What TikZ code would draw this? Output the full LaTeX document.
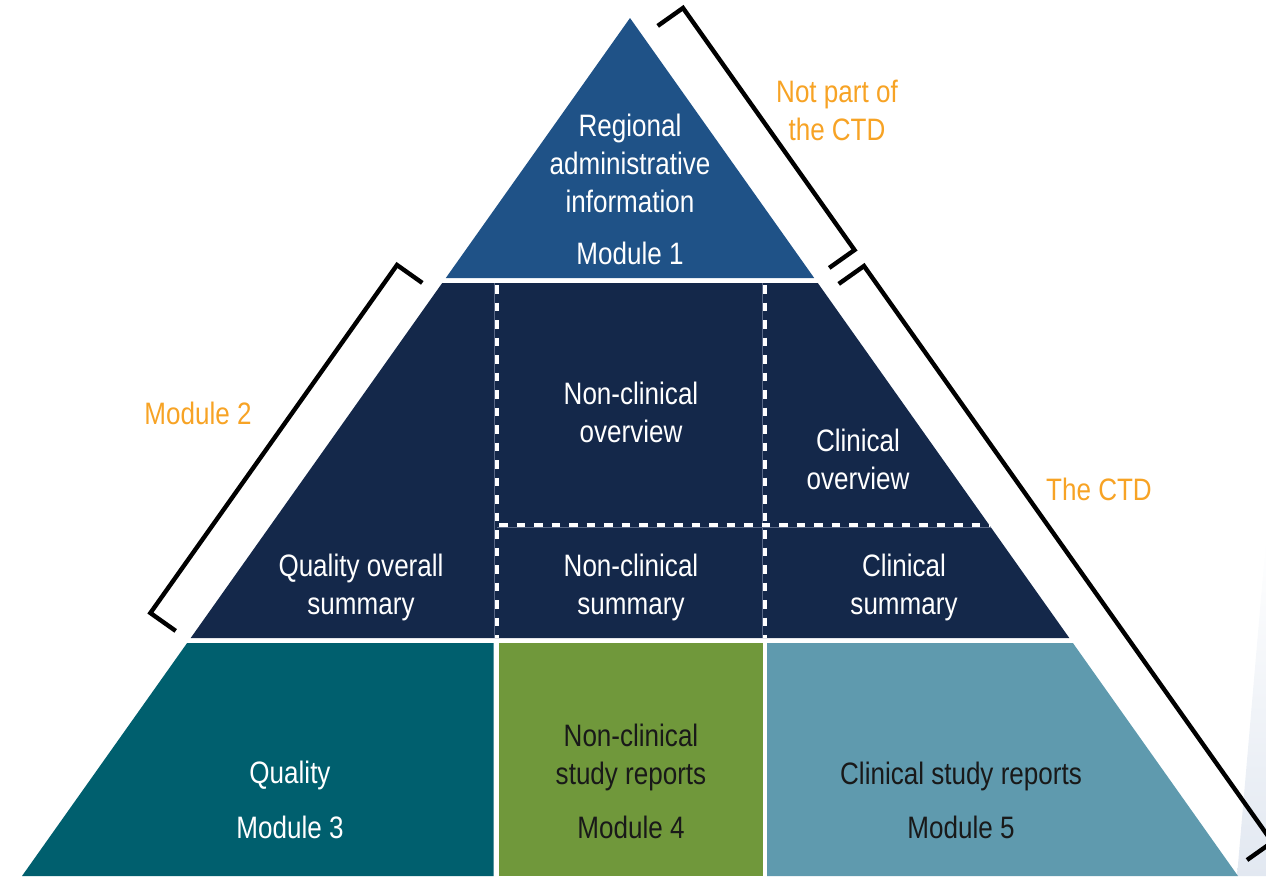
\documentclass[tikz,border=0pt]{standalone}
\usepackage{fontspec}
\setmainfont{Liberation Sans}[FakeStretch=0.84]
\definecolor{modone}{RGB}{31,82,135}
\definecolor{modtwo}{RGB}{20,40,74}
\definecolor{modthree}{RGB}{0,95,110}
\definecolor{modfour}{RGB}{112,152,59}
\definecolor{modfive}{RGB}{95,154,174}
\definecolor{accent}{RGB}{247,163,37}
\definecolor{seam}{RGB}{90,105,135}
\definecolor{haze}{RGB}{226,232,241}

\begin{document}
\begin{tikzpicture}[x=1pt,y=-1pt,
  lbl/.style={align=center,inner sep=0pt,font=\fontsize{31}{38}\selectfont},
  wlbl/.style={lbl,text=white},
  dlbl/.style={lbl,text=black!90},
  olbl/.style={lbl,text=accent},
  brace/.style={line width=4.4pt,black,line join=miter},
  cut/.style={white,line width=4pt,dash pattern=on 8.5pt off 9pt},
  seamline/.style={seam,line width=1pt}]
\useasboundingbox (0,0) rectangle (1266,876);

% faint background panel at the right edge
\shade[top color=white, bottom color=haze] (1266,540) -- (1237,876) -- (1266,876) -- cycle;

% Module 1 (apex)
\fill[modone] (630,18) -- (814.2,278) -- (445.8,278) -- cycle;

% Module 2 band
\fill[modtwo] (442.2,283) -- (817.8,283) -- (1069.3,638) -- (190.7,638) -- cycle;
\draw[seamline] (494.5,283) -- (494.5,638);
\draw[seamline] (762.5,283) -- (762.5,638);
\draw[seamline] (497,527) -- (990.7,527);
\draw[cut] (497,285) -- (497,638);
\draw[cut] (765,285) -- (765,638);
\draw[cut] (499,525) -- (989.3,525);

% Modules 3-5 base
\fill[modthree] (187.1,643) -- (493.5,643) -- (493.5,876) -- (22,876) -- cycle;
\fill[modfour] (498.5,643) rectangle (763,876);
\fill[modfive] (767,643) -- (1072.9,643) -- (1238,876) -- (767,876) -- cycle;

% brackets
\draw[brace] (657.7,25.9) -- (683,8) -- (854.5,250) -- (829.2,267.9);
\draw[brace] (838.7,283.9) -- (864,266) -- (1272.3,842.1) -- (1247,860);
\draw[brace] (422.3,282.9) -- (397,265) -- (150.4,613) -- (175.7,630.9);

% labels
\node[wlbl] (m1txt) at (630,163) {Regional\\administrative\\information};
\node[wlbl] (m1) at (630,253) {Module 1};
\node[olbl] (notctd) at (837,110) {Not part of\\the CTD};
\node[olbl] (m2) at (198,413) {Module 2};
\node[olbl] (ctd) at (1099,489) {The CTD};
\node[wlbl] (nco) at (631,412) {Non-clinical\\overview};
\node[wlbl] (co) at (858,459) {Clinical\\overview};
\node[wlbl] (qos) at (361,587) {Quality overall\\summary};
\node[wlbl] (ncs) at (631,587) {Non-clinical\\summary};
\node[wlbl] (cs) at (904,587) {Clinical\\summary};
\node[wlbl] (q) at (290,775) {Quality};
\node[wlbl] (m3) at (290,827) {Module 3};
\node[dlbl] (ncsr) at (631,757) {Non-clinical\\study reports};
\node[dlbl] (m4) at (631,827) {Module 4};
\node[dlbl] (csr) at (961,776) {Clinical study reports};
\node[dlbl] (m5) at (961,827) {Module 5};
\end{tikzpicture}
\end{document}
